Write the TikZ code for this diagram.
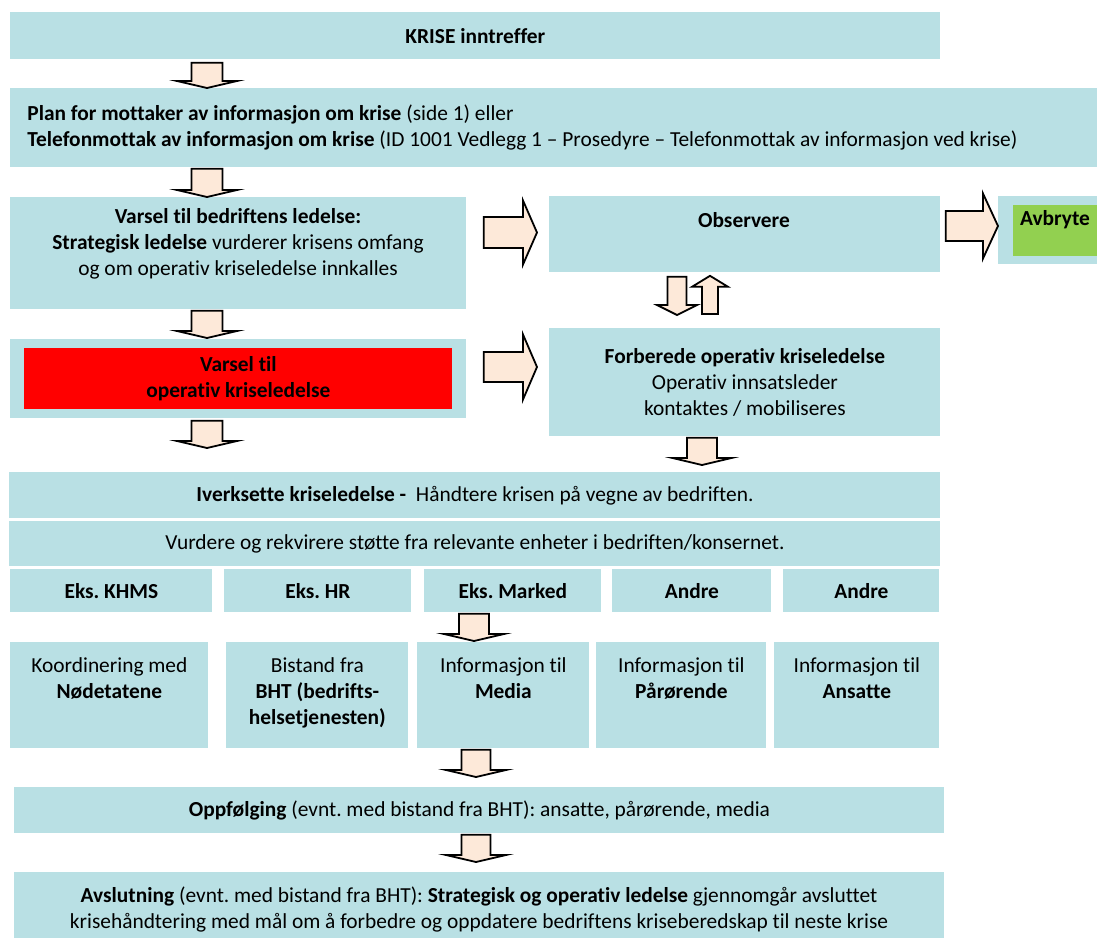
\documentclass[tikz,border=0pt]{standalone}
\usepackage{fontspec}
\setmainfont{Carlito}[Ligatures=NoCommon]
\frenchspacing
\usetikzlibrary{calc}
\definecolor{boxblue}{RGB}{185,224,228}
\definecolor{peach}{RGB}{253,233,217}
\definecolor{okgreen}{RGB}{146,208,80}
\tikzset{
  box/.style={fill=boxblue,inner sep=0pt,anchor=north west,align=center},
  txt/.style={inner sep=0pt,align=center},
  blockarrow/.style={draw=black,fill=peach,line width=0.9pt,line join=miter},
}
% block arrows: #1 from, #2 to, #3 shaft half width, #4 head half width, #5 head length
\newcommand{\blockdown}[5]{\draw[blockarrow] let \p1=#1, \p2=#2 in
  (\x1-#3,\y1) -- (\x1+#3,\y1) -- (\x1+#3,\y2+#5) -- (\x1+#4,\y2+#5) -- (\x1,\y2)
  -- (\x1-#4,\y2+#5) -- (\x1-#3,\y2+#5) -- cycle;}
\newcommand{\blockup}[5]{\draw[blockarrow] let \p1=#1, \p2=#2 in
  (\x1-#3,\y1) -- (\x1+#3,\y1) -- (\x1+#3,\y2-#5) -- (\x1+#4,\y2-#5) -- (\x1,\y2)
  -- (\x1-#4,\y2-#5) -- (\x1-#3,\y2-#5) -- cycle;}
\newcommand{\blockright}[5]{\draw[blockarrow] let \p1=#1, \p2=#2 in
  (\x1,\y1-#3) -- (\x2-#5,\y1-#3) -- (\x2-#5,\y1-#4) -- (\x2,\y1) -- (\x2-#5,\y1+#4)
  -- (\x2-#5,\y1+#3) -- (\x1,\y1+#3) -- cycle;}
\begin{document}
\begin{tikzpicture}[x=0.5pt,y=-0.5pt,font=\fontsize{10.7}{13}\selectfont]
\useasboundingbox (0,0) rectangle (1099,938);
% top part
\node[box,minimum width=465pt,minimum height=23.5pt] (krise) at (10,12) {\textbf{KRISE inntreffer}};
\node[box,minimum height=39.5pt,text width=526.5pt,inner xsep=8.5pt,align=flush left] (plan) at (10,88) {\textbf{Plan for mottaker av informasjon om krise} (side 1) eller\\\textbf{Telefonmottak av informasjon om krise} (ID 1001 Vedlegg 1 – Prosedyre – Telefonmottak av informasjon ved krise)};
\node[box,minimum width=228pt,minimum height=56pt] (varsel) at (10,197) {};
\node[txt] (varseltxt) at (238,244) {\textbf{Varsel til bedriftens ledelse:}\\\textbf{Strategisk ledelse} vurderer krisens omfang\\og om operativ kriseledelse innkalles};
\node[box,minimum width=228pt,minimum height=39.5pt] (varseltil) at (10,339) {};
\node[box,fill=red,minimum width=214pt,minimum height=30.5pt] (varselred) at (24,348) {\textbf{Varsel til}\\\textbf{operativ kriseledelse}};
\node[box,minimum width=195.5pt,minimum height=38pt] (obs) at (549,196) {};
\node[txt] (obstxt) at (744,220) {\textbf{Observere}};
\node[box,minimum width=49.5pt,minimum height=34pt] (avb) at (998,196) {};
\node[box,fill=okgreen,minimum width=42pt,minimum height=25.5pt] (avbgreen) at (1013,205) {};
\node[txt] (avbtxt) at (1055,220) {\textbf{Avbryte}};
\node[box,minimum width=195.5pt,minimum height=54pt] (forb) at (549,328) {\textbf{Forberede operativ kriseledelse}\\Operativ innsatsleder\\kontaktes / mobiliseres};
% kriseledelse
\node[box,minimum width=465.5pt,minimum height=23pt] (iverk) at (9,472) {\textbf{Iverksette kriseledelse -}\ \ Håndtere krisen på vegne av bedriften.};
\node[box,minimum width=465.5pt,minimum height=22.5pt] (vurd) at (9,521) {Vurdere og rekvirere støtte fra relevante enheter i bedriften/konsernet.};
\node[box,minimum width=101pt,minimum height=21.5pt] (khms) at (10,569) {\textbf{Eks. KHMS}};
\node[box,minimum width=93.5pt,minimum height=21.5pt] (hr) at (224,569) {\textbf{Eks. HR}};
\node[box,minimum width=88.5pt,minimum height=21.5pt] (marked) at (424,569) {\textbf{Eks. Marked}};
\node[box,minimum width=79.5pt,minimum height=21.5pt] (andrea) at (612,569) {\textbf{Andre}};
\node[box,minimum width=78pt,minimum height=21.5pt] (andreb) at (783,569) {\textbf{Andre}};
\node[box,minimum width=99pt,minimum height=53pt] (koord) at (10,642) {};
\node[box,minimum width=91pt,minimum height=53pt] (bht) at (226,642) {};
\node[box,minimum width=86pt,minimum height=53pt] (media) at (417,642) {};
\node[box,minimum width=85pt,minimum height=53pt] (paar) at (596,642) {};
\node[box,minimum width=82.5pt,minimum height=53pt] (ansatte) at (774,642) {};
\node[txt,anchor=north] (koordtxt) at ($(koord.north)+(0,15)$) {Koordinering med\\\textbf{Nødetatene}};
\node[txt,anchor=north] (bhttxt) at ($(bht.north)+(0,15)$) {Bistand fra\\\textbf{BHT (bedrifts-}\\\textbf{helsetjenesten)}};
\node[txt,anchor=north] (mediatxt) at ($(media.north)+(0,15)$) {Informasjon til\\\textbf{Media}};
\node[txt,anchor=north] (paartxt) at ($(paar.north)+(0,15)$) {Informasjon til\\\textbf{Pårørende}};
\node[txt,anchor=north] (ansattetxt) at ($(ansatte.north)+(0,15)$) {Informasjon til\\\textbf{Ansatte}};
% etterarbeid
\node[box,minimum width=465pt,minimum height=23pt] (oppf) at (14,787) {\textbf{Oppfølging} (evnt. med bistand fra BHT): ansatte, pårørende, media};
\node[box,minimum width=465pt,minimum height=33pt] (avsl) at (14,872) {};
\node[txt] (avsltxt) at (479,910) {\textbf{Avslutning} (evnt. med bistand fra BHT): \textbf{Strategisk og operativ ledelse} gjennomgår avsluttet\\krisehåndtering med mål om å forbedre og oppdatere bedriftens kriseberedskap til neste krise};
% arrows
\blockdown{($(krise.south west)+(197,3)$)}{($(plan.north west)+(197,0)$)}{7.75pt}{15pt}{3.5pt}
\blockdown{($(plan.south west)+(197,1)$)}{($(varsel.north west)+(197,0)$)}{7.75pt}{15pt}{3.5pt}
\blockdown{($(varsel.south west)+(197,1)$)}{($(varseltil.north west)+(197,-1)$)}{7.75pt}{15pt}{3.5pt}
\blockdown{($(varseltil.south west)+(197,2)$)}{($(iverk.north west)+(198,-24)$)}{7.75pt}{15pt}{3.5pt}
\blockright{($(varsel.north east)+(17,35.5)$)}{($(obs.north west)+(-12,0)$)}{7.75pt}{16pt}{7pt}
\blockright{($(varseltil.north east)+(17,28)$)}{($(forb.north west)+(-12,0)$)}{7.5pt}{16.25pt}{7pt}
\blockright{($(obs.north east)+(5,30)$)}{(avb.north west)}{7.5pt}{16.25pt}{7.5pt}
\blockdown{($(obs.south west)+(128,4)$)}{($(forb.north west)+(128,-13)$)}{4.75pt}{10pt}{5pt}
\blockup{($(forb.north west)+(161,-14)$)}{($(obs.south west)+(161,3)$)}{4pt}{9pt}{5.5pt}
\blockdown{($(forb.south west)+(153,1)$)}{($(iverk.north west)+(693,-7)$)}{7.5pt}{14.75pt}{3.5pt}
\blockdown{($(marked.south west)+(50,1)$)}{($(media.north west)+(57,-1)$)}{7.5pt}{15pt}{3.5pt}
\blockdown{($(media.south west)+(59,1)$)}{($(oppf.north west)+(462,-10)$)}{7.25pt}{15pt}{3.5pt}
\blockdown{($(oppf.south west)+(462,1)$)}{($(avsl.north west)+(462,-10)$)}{7.25pt}{15pt}{3.5pt}
\end{tikzpicture}
\end{document}
